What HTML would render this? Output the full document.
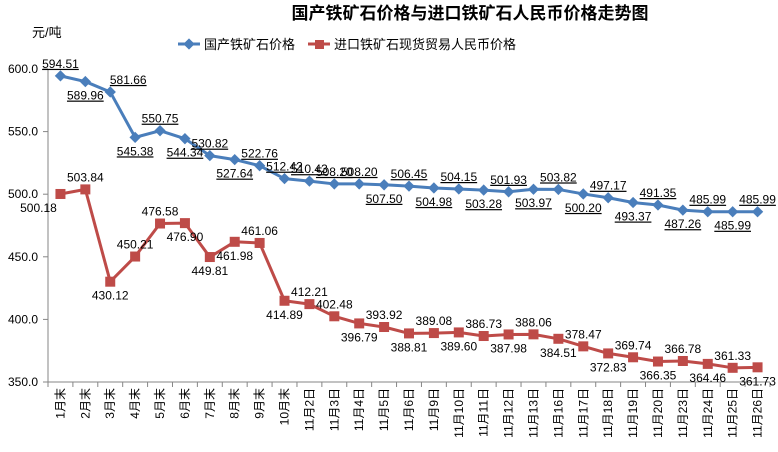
<!DOCTYPE html>
<html><head><meta charset="utf-8"><style>
body{margin:0;background:#fff;}
svg{display:block;font-family:"Liberation Sans","Noto Sans CJK SC",sans-serif;}
</style></head><body>
<svg id="c" width="778" height="452" viewBox="0 0 778 452">
<text x="470" y="19" text-anchor="middle" font-size="17" font-weight="bold" fill="#000">国产铁矿石价格与进口铁矿石人民币价格走势图</text>
<text x="32" y="37" font-size="13" fill="#000">元/吨</text>
<g>
<g>
<line x1="178" y1="44" x2="200" y2="44" stroke="#4a7ebb" stroke-width="3"/>
<rect x="185" y="40" width="8" height="8" fill="#4a7ebb" transform="rotate(45 189 44)"/>
<text x="204" y="49" font-size="13">国产铁矿石价格</text></g>
<g>
<line x1="308" y1="44" x2="330" y2="44" stroke="#be4b48" stroke-width="3"/>
<rect x="315" y="40" width="9" height="9" fill="#be4b48"/>
<text x="334" y="49" font-size="13">进口铁矿石现货贸易人民币价格</text></g>
</g>
<g id="axes"></g>
<g id="series"></g>
</svg>
<script>
const categories=["1月末","2月末","3月末","4月末","5月末","6月末","7月末","8月末","9月末","10月末","11月2日","11月3日","11月4日","11月5日","11月6日","11月9日","11月10日","11月11日","11月12日","11月13日","11月16日","11月17日","11月18日","11月19日","11月20日","11月23日","11月24日","11月25日","11月26日"];
const domestic=[594.51,589.96,581.66,545.38,550.75,544.34,530.82,527.64,522.76,512.42,510.43,508.20,508.20,507.50,506.45,504.98,504.15,503.28,501.93,503.97,503.82,500.20,497.17,493.37,491.35,487.26,485.99,485.99,485.99];
const imported=[500.18,503.84,430.12,450.21,476.58,476.90,449.81,461.98,461.06,414.89,412.21,402.48,396.79,393.92,388.81,389.08,389.60,386.73,387.98,388.06,384.51,378.47,372.83,369.74,366.35,366.78,364.46,361.33,361.73];
const yTicks=[350,400,450,500,550,600];

const NS="http://www.w3.org/2000/svg";
const L=48,R=770,T=69,B=382,yMin=350,yMax=600;
const n=categories.length,step=(R-L)/n;
const xs=i=>L+step*(i+0.5);
const ys=v=>B-(v-yMin)/(yMax-yMin)*(B-T);
function mk(tag,attrs,parent){const e=document.createElementNS(NS,tag);for(const k in attrs)e.setAttribute(k,attrs[k]);parent.appendChild(e);return e;}
const ax=document.getElementById('axes'),sg=document.getElementById('series');

let yl=mk('line',{x1:L,y1:T,x2:L,y2:B,stroke:'#868686'},ax);


let xl=mk('line',{x1:L,y1:B,x2:R,y2:B,stroke:'#868686'},ax);


yTicks.forEach(v=>{
  mk('line',{x1:L-5,y1:ys(v),x2:L,y2:ys(v),stroke:'#868686'},ax);
  const t=mk('text',{x:L-10,y:ys(v)+4,'text-anchor':'end','font-size':12},ax);
  t.textContent=v.toFixed(1);
  
  
});
for(let i=0;i<=n;i++){mk('line',{x1:L+step*i,y1:B,x2:L+step*i,y2:B+5,stroke:'#868686'},ax);}
categories.forEach((c,i)=>{
  const x=xs(i);
  const t=mk('text',{x:0,y:0,'font-size':12,'text-anchor':'end',transform:`translate(${x+4},${388}) rotate(-90)`},ax);
  t.textContent=c;
  
  
});

function drawSeries(vals,color,name,marker,underline,isAbove,dxFn){
  const pts=vals.map((v,i)=>xs(i)+','+ys(v)).join(' ');
  const pl=mk('polyline',{points:pts,fill:'none',stroke:color,'stroke-width':3,'stroke-linejoin':'round'},sg);
  
  
  vals.forEach((v,i)=>{
    const x=xs(i),y=ys(v);
    let m;
    if(marker==='diamond') m=mk('rect',{x:x-4,y:y-4,width:8,height:8,fill:color,transform:`rotate(45 ${x} ${y})`},sg);
    else m=mk('rect',{x:x-5,y:y-5,width:10,height:10,fill:color},sg);
    
    
    const above=isAbove(i);
    const t=mk('text',{x:x+dxFn(i),y:above?y-8:y+18,'text-anchor':'middle','font-size':12,fill:'#000'},sg);
    if(underline) t.setAttribute('text-decoration','underline');
    t.textContent=v.toFixed(2);
    
    
  });
}
drawSeries(domestic,'#4a7ebb','domestic-price','diamond',true,
  i=>(i%2===0)||i===9||i===11,
  i=>(i===2?18:0));
drawSeries(imported,'#be4b48','import-price','square',false,
  i=>(i>=13?(i%2===1):[1,3,4,8,10,11].includes(i)),
  i=>(i===0?-22:0));
</script>
</body></html>
